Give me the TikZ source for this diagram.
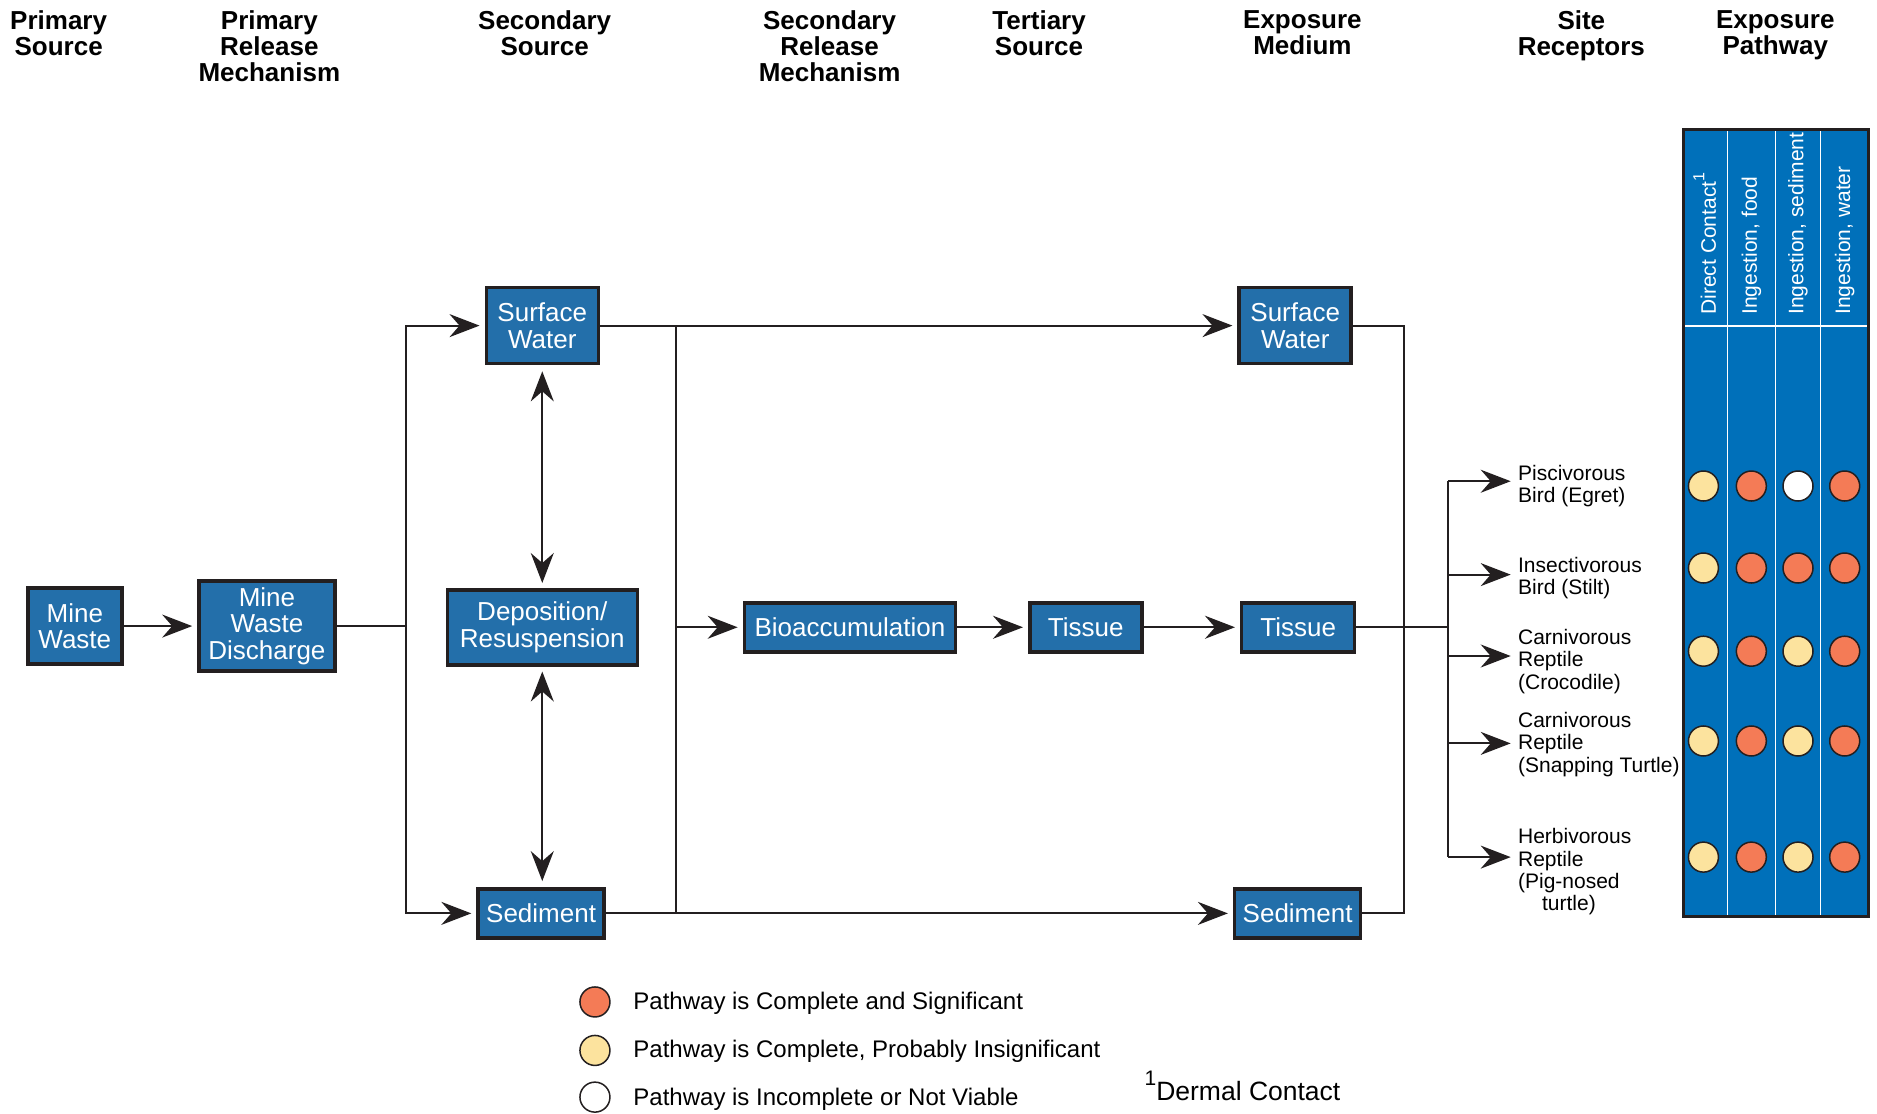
\documentclass[tikz,border=0pt]{standalone}
\usepackage{fontspec}
\setmainfont{Liberation Sans}
\usetikzlibrary{arrows.meta}

\definecolor{boxblue}{HTML}{236FAA}
\definecolor{tableblue}{HTML}{0070BA}
\definecolor{sigred}{HTML}{F47B56}
\definecolor{lowyellow}{HTML}{FCE39E}
\definecolor{edgegray}{HTML}{231F20}

\tikzstyle{box} = [rectangle, draw=edgegray, line width=3.5pt, fill=boxblue, text=white, align=center, inner sep=2pt, font=\fontsize{26}{26.3}\selectfont]
\tikzstyle{heading} = [align=center, inner sep=0pt, anchor=north, font=\bfseries\fontsize{26}{26.3}\selectfont]
\tikzstyle{receptor} = [align=left, inner sep=0pt, anchor=north west, font=\fontsize{21}{22.3}\selectfont]
\tikzstyle{wire} = [line width=2pt, draw=edgegray]
\tikzstyle{arrow} = [wire, -{Stealth[length=30pt, width=23pt, inset=10pt]}, shorten >=5pt]
\tikzstyle{twoway} = [wire, {Stealth[length=30pt, width=23pt, inset=10pt]}-{Stealth[length=30pt, width=23pt, inset=10pt]}, shorten >=5pt, shorten <=6pt]
\tikzstyle{pathdot} = [circle, draw=edgegray, line width=1.5pt, minimum size=30pt, inner sep=0pt]
\tikzstyle{colhead} = [rotate=90, anchor=west, inner sep=0pt, text=white, font=\fontsize{21}{21}\selectfont]
\tikzstyle{legendtext} = [anchor=west, inner sep=0pt, font=\fontsize{24}{24}\selectfont]

\begin{document}
\begin{tikzpicture}[x=1.197pt, y=-1.197pt]

        \useasboundingbox (0,0) rectangle (1568,930);

        % Headings
        \node (headPrimary) [heading] at (49,8.5) {Primary\\Source};
        \node (headPrimaryRel) [heading] at (225,8.5) {Primary\\Release\\Mechanism};
        \node (headSecondary) [heading] at (455,8.5) {Secondary\\Source};
        \node (headSecondaryRel) [heading] at (693,8.5) {Secondary\\Release\\Mechanism};
        \node (headTertiary) [heading] at (868,8.5) {Tertiary\\Source};
        \node (headMedium) [heading] at (1088,8.5) {Exposure\\Medium};
        \node (headReceptors) [heading] at (1321,8.5) {Site\\Receptors};
        \node (headPathway) [heading] at (1483,8.5) {Exposure\\Pathway};

        % Nodes
        \node (mineWaste) [box, minimum width=94pt, minimum height=76pt] at (62.5,523) {Mine\\Waste};
        \node (mineDischarge) [box, minimum width=136pt, minimum height=90pt] at (223,523) {Mine\\Waste\\Discharge};
        \node (surfaceWater) [box, minimum width=112pt, minimum height=76pt] at (453,272) {Surface\\Water};
        \node (deposition) [box, minimum width=190pt, minimum height=75pt] at (453,524) {Deposition/\\Resuspension};
        \node (sediment) [box, minimum width=126pt, minimum height=49pt] at (452,763) {Sediment};
        \node (bioaccumulation) [box, minimum width=211pt, minimum height=49pt] at (710,524) {Bioaccumulation};
        \node (tissue) [box, minimum width=112pt, minimum height=49pt] at (907,524) {Tissue};
        \node (tissueExp) [box, minimum width=113pt, minimum height=49pt] at (1084.5,524) {Tissue};
        \node (surfaceWaterExp) [box, minimum width=112pt, minimum height=76pt] at (1082,272) {Surface\\Water};
        \node (sedimentExp) [box, minimum width=126pt, minimum height=49pt] at (1084,763) {Sediment};

        \coordinate (splitA) at (339,523);
        \coordinate (splitB) at (565,272);
        \coordinate (splitC) at (565,763);
        \coordinate (joinR) at (1173,763);
        \coordinate (fanOut) at (1210,524);

        % Arrows
        \draw [arrow] (mineWaste) -- (mineDischarge);
        \draw [wire] (mineDischarge.east) -- (splitA);
        \draw [arrow] (splitA) |- (surfaceWater.west);
        \draw [arrow] (splitA) |- (sediment.west);
        \draw [twoway] (surfaceWater.south) -- (surfaceWater.south |- deposition.north);
        \draw [twoway] (surfaceWater.south |- sediment.north) -- (surfaceWater.south |- deposition.south);
        \draw [arrow] (surfaceWater.east) -- (surfaceWaterExp.west);
        \draw [arrow] (sediment.east) -- (sedimentExp.west);
        \draw [wire] (splitB) -- (splitC);
        \draw [arrow] (splitB |- bioaccumulation) -- (bioaccumulation.west);
        \draw [arrow] (bioaccumulation) -- (tissue);
        \draw [arrow] (tissue) -- (tissueExp);
        \draw [wire] (surfaceWaterExp.east) -| (joinR) -- (sedimentExp.east);
        \draw [wire] (tissueExp.east) -- (fanOut);

        % Receptors
        \coordinate (tipEgret) at (1262,402);
        \coordinate (tipPignose) at (1262,716);
        \draw [wire] (fanOut |- tipEgret) -- (fanOut |- tipPignose);
        \foreach \name/\y in {Egret/402, Stilt/480, Croc/548, Snapper/621, Pignose/716} {
            \coordinate (tip\name) at (1262,\y);
            \draw [arrow, shorten >=0pt] (fanOut |- tip\name) -- (tip\name);
        }
        \node (egret) [receptor] at (1268,388.5) {Piscivorous\\Bird (Egret)};
        \node (stilt) [receptor] at (1268,465.5) {Insectivorous\\Bird (Stilt)};
        \node (croc) [receptor] at (1268,525.5) {Carnivorous\\Reptile\\(Crocodile)};
        \node (snapper) [receptor] at (1268,595) {Carnivorous\\Reptile\\(Snapping Turtle)};
        \node (pignose) [receptor] at (1268,692) {Herbivorous\\Reptile\\(Pig-nosed\\\hspace*{24pt}turtle)};

        % Pathway table
        \fill [tableblue] (1406,108) rectangle (1561,766);
        \draw [white, line width=2pt] (1406,272) -- (1561,272);
        \foreach \x in {1443,1483,1521}
            \draw [white, line width=1.3pt] (\x,108) -- (\x,766);
        \draw [edgegray, line width=3pt] (1406,108) rectangle (1561,766);
        \node (colDirect) [colhead] at (1424,263) {Direct Contact\raisebox{0.55em}{\fontsize{16}{16}\selectfont 1}};
        \node (colFood) [colhead] at (1463,263) {Ingestion, food};
        \node (colSediment) [colhead] at (1502,263) {Ingestion, sediment};
        \node (colWater) [colhead] at (1541,263) {Ingestion, water};

        \foreach \y/\ca/\cb/\cc/\cd [count=\r] in {406/lowyellow/sigred/white/sigred, 474.5/lowyellow/sigred/sigred/sigred, 544/lowyellow/sigred/lowyellow/sigred, 619/lowyellow/sigred/lowyellow/sigred, 716/lowyellow/sigred/lowyellow/sigred} {
            \node (dotA\r) [pathdot, fill=\ca] at (1423,\y) {};
            \node (dotB\r) [pathdot, fill=\cb] at (1463,\y) {};
            \node (dotC\r) [pathdot, fill=\cc] at (1502,\y) {};
            \node (dotD\r) [pathdot, fill=\cd] at (1541,\y) {};
        }

        % Legend
        \node (keySig) [pathdot, fill=sigred] at (497,837) {};
        \node (keyLow) [pathdot, fill=lowyellow] at (497,877.5) {};
        \node (keyNone) [pathdot, fill=white] at (497,916.5) {};
        \node (keySigText) [legendtext] at (529,838) {Pathway is Complete and Significant};
        \node (keyLowText) [legendtext] at (529,878) {Pathway is Complete, Probably Insignificant};
        \node (keyNoneText) [legendtext] at (529,918) {Pathway is Incomplete or Not Viable};
        \node (dermal) [anchor=base west, inner sep=0pt, font=\fontsize{26.5}{26.5}\selectfont] at (956,919) {\raisebox{0.55em}{\fontsize{21}{21}\selectfont 1}Dermal Contact};

\end{tikzpicture}
\end{document}
